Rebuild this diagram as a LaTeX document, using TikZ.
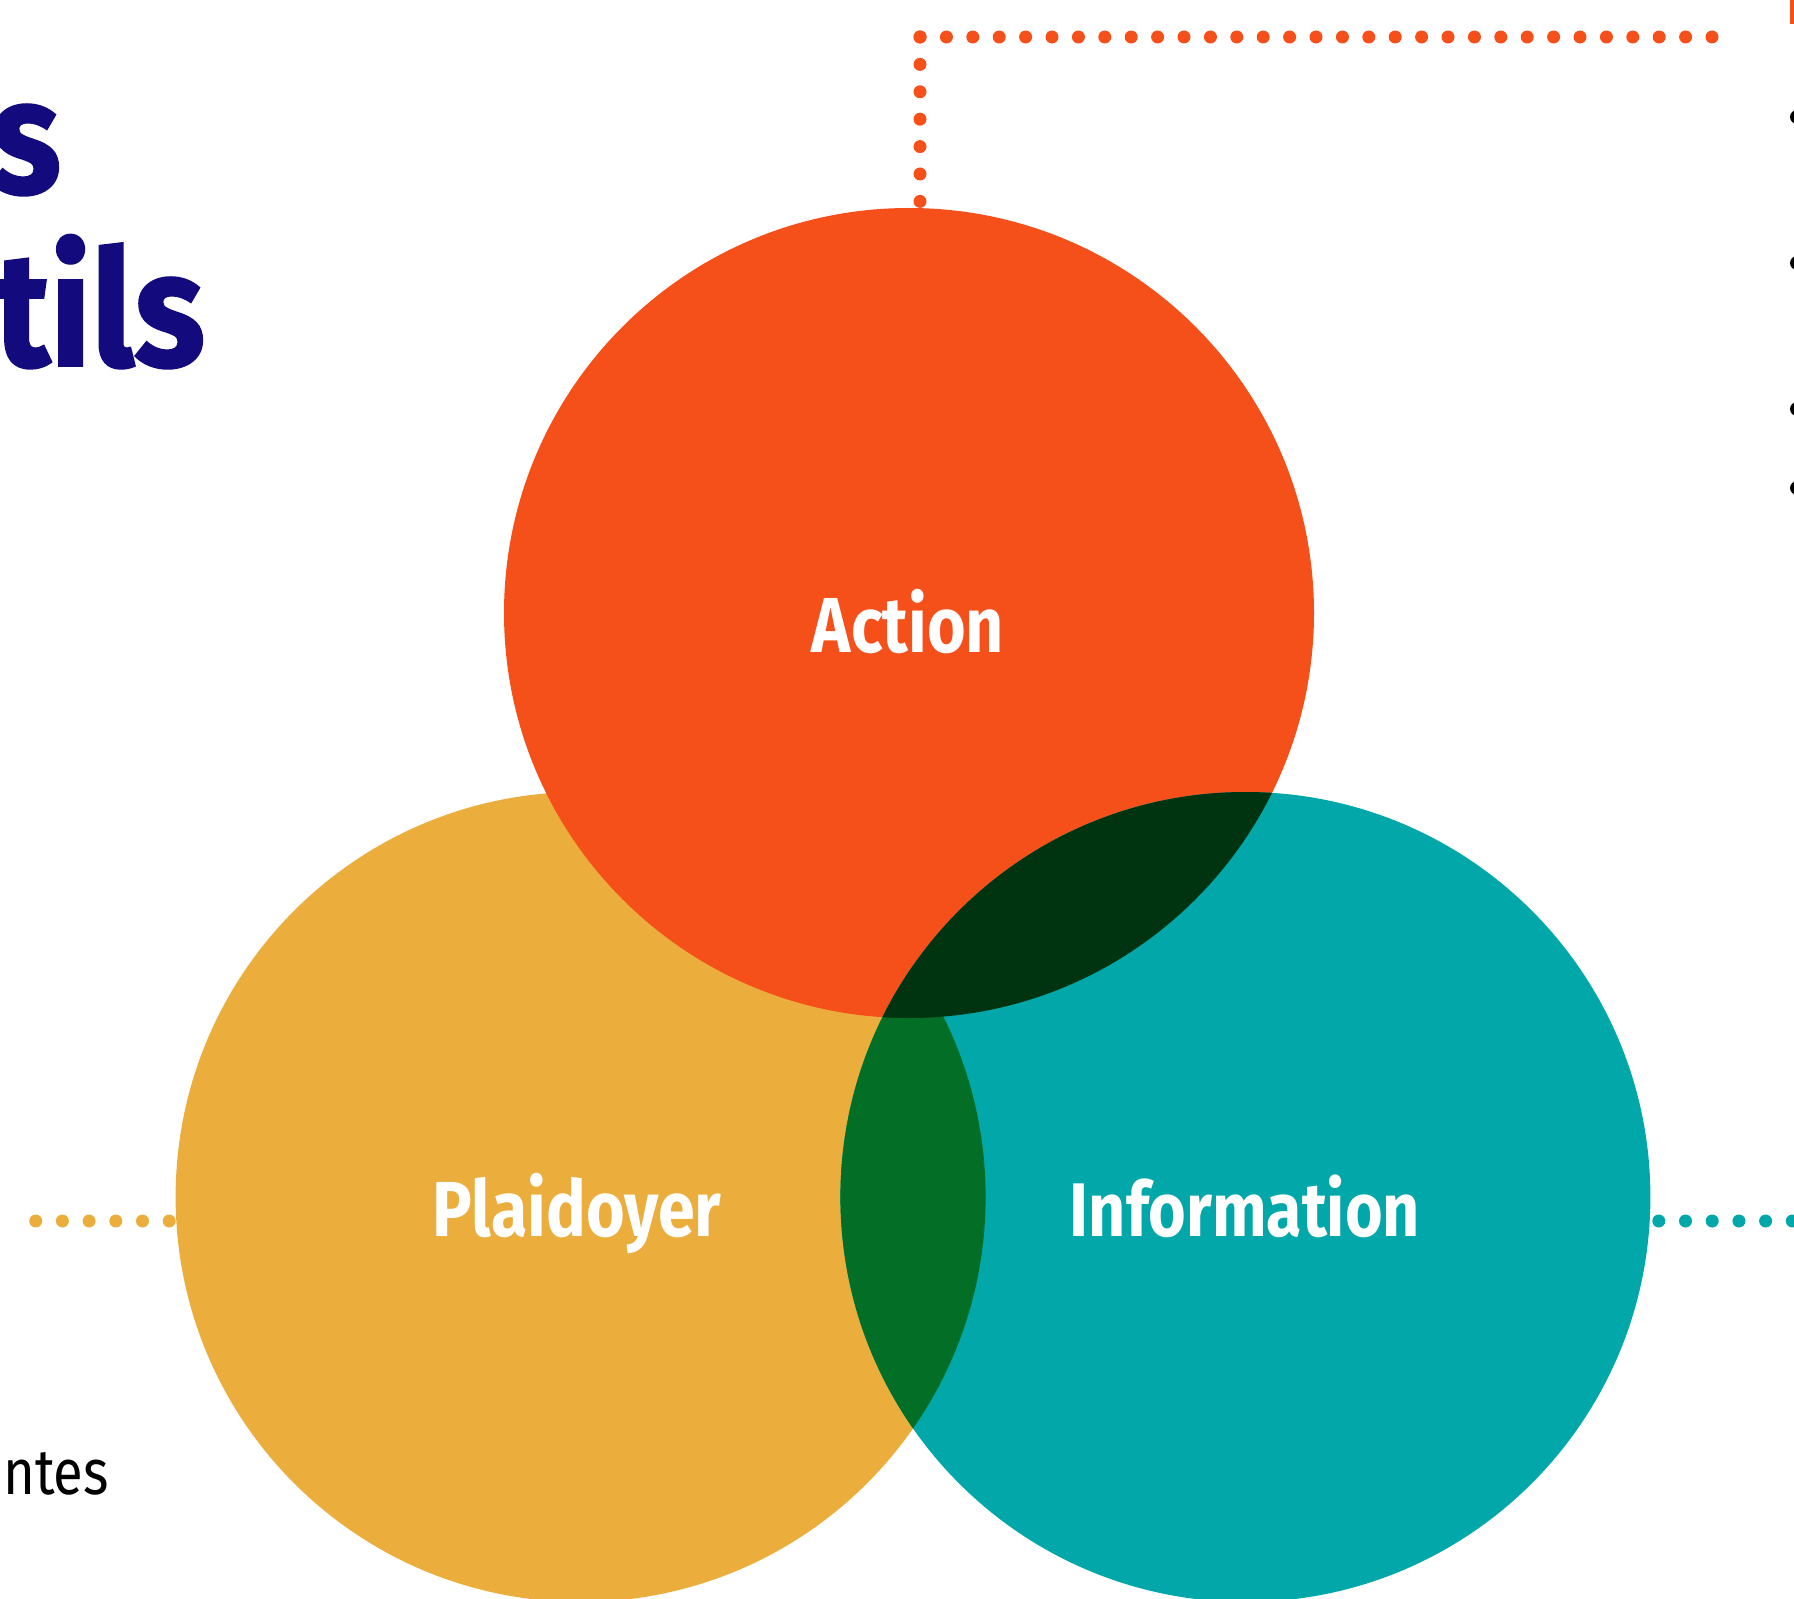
\documentclass[tikz,border=0pt]{standalone}
\usepackage{fontspec}
\setmainfont{Fira Sans}[FakeStretch=0.85]
\newfontfamily\titlefont{Fira Sans}[FakeStretch=0.9, BoldFeatures={FakeBold=1.2}]
\usepackage{xcolor}
\definecolor{actionorange}{HTML}{F54F1A}
\definecolor{plaidyellow}{HTML}{EBAD3C}
\definecolor{infoteal}{HTML}{02A7A9}
\definecolor{darkmix}{HTML}{00330F}
\definecolor{greenmix}{HTML}{036E25}
\definecolor{titleblue}{HTML}{130A7E}

\tikzset{
  disc/.style={circle, minimum size=405pt, inner sep=0pt},
  circlelabel/.style={anchor=base, text=white, font=\fontsize{39}{39}\selectfont\bfseries},
  titletext/.style={anchor=base east, text=titleblue, font=\titlefont\fontsize{81}{81}\selectfont\bfseries},
  dots/.style={line width=6.5pt, line cap=round, dash pattern=on 0pt off 13.35pt}
}

\begin{document}
\begin{tikzpicture}[x=0.5pt,y=-0.5pt]
        \useasboundingbox (0,0) rectangle (1794,1599);
        \clip (0,0) rectangle (1794,1599);
        % title and notes, cut at the edges
        \node[titletext] (titleone) at (68,193) {s};
        \node[titletext] (titletwo) at (212,366) {utils};
        \node[anchor=base east, font=\fontsize{32}{32}\selectfont] (note) at (116,1494) {antes};
        \fill[actionorange] (1790,0) rectangle (1794,24);
        \fill (1797,117) circle (3.5pt);
        \fill (1797,263) circle (3.5pt);
        \fill (1797,409) circle (3.5pt);
        \fill (1797,488) circle (3.5pt);
        % circles
        \node[disc, fill=plaidyellow](plaidoyer) at (580.6,1197) {};
        \node[disc, fill=actionorange](action) at (909,613) {};
        \node[disc, fill=infoteal](information) at (1245.4,1197) {};
        \begin{scope}
        \clip (information.center) circle (202.5pt);
        \fill[greenmix] (plaidoyer.center) circle (202.5pt);
        \fill[darkmix] (action.center) circle (202.5pt);
        \end{scope}
        % dotted leaders
        \coordinate(actioncorner) at (920,37);
        \coordinate(actionend) at (1715,37);
        \draw[dots, actionorange, dash pattern=on 0pt off 13.2pt](actioncorner)--(actionend);
        \draw[dots, actionorange, dash pattern=on 0pt off 13.7pt](actioncorner)--(actioncorner |- action.north);
        \draw[dots, plaidyellow](plaidoyer.west) ++(-6,24) -- ++(-134,0);
        \draw[dots, infoteal](information.east) ++(8,24) -- ++(150,0);
        % labels
        \node[circlelabel](actionlabel) at (908,652) {Action};
        \node[circlelabel](plaidoyerlabel) at (577,1236) {Plaidoyer};
        \node[circlelabel, font=\fontsize{38}{38}\selectfont\bfseries](informationlabel) at (1245,1236) {Information};
        \end{tikzpicture}
\end{document}
